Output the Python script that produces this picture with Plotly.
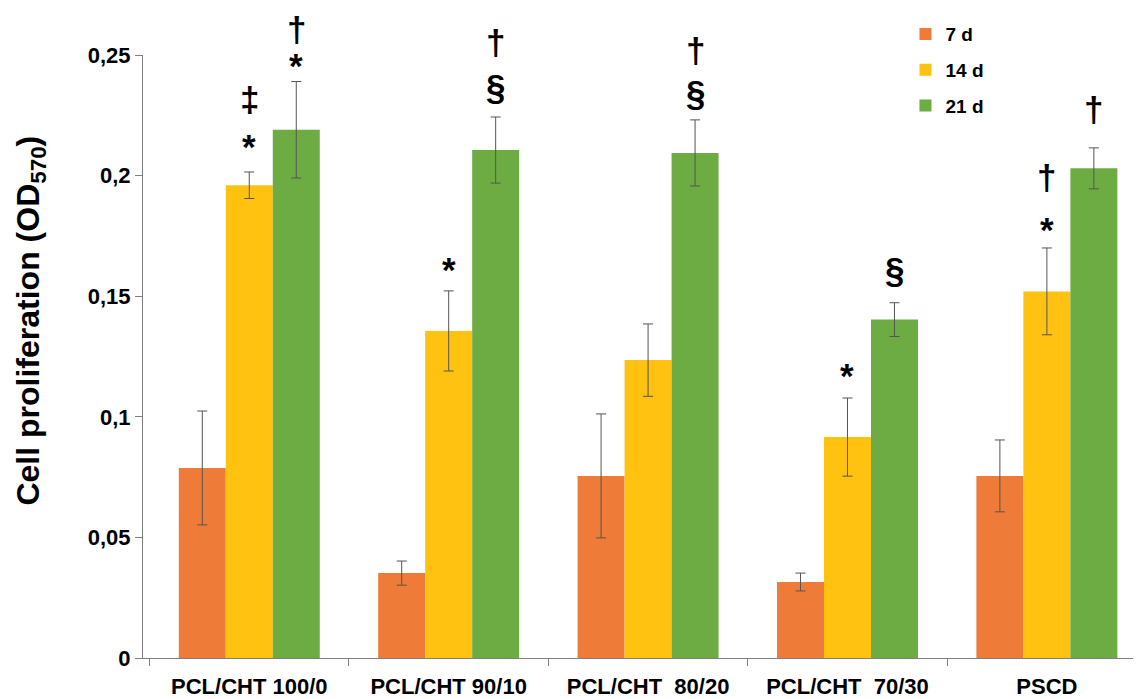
import plotly.graph_objects as go

categories = ["PCL/CHT 100/0", "PCL/CHT 90/10", "PCL/CHT\u00a0 80/20", "PCL/CHT\u00a0 70/30", "PSCD"]
series_names = ["7 d", "14 d", "21 d"]
vals_7d = [0.0788, 0.0352, 0.0755, 0.0315, 0.0755]
err_7d = [0.0236, 0.0050, 0.0257, 0.0037, 0.0149]
vals_14d = [0.1960, 0.1356, 0.1235, 0.0916, 0.1520]
err_14d = [0.0055, 0.0166, 0.0150, 0.0162, 0.0180]
vals_21d = [0.2190, 0.2106, 0.2094, 0.1403, 0.2030]
err_21d = [0.0200, 0.0137, 0.0137, 0.0070, 0.0085]
# significance symbols, bottom to top
sym_7d = [[], [], [], [], []]
sym_14d = [["*", "‡"], ["*"], [], ["*"], ["*", "†"]]
sym_21d = [["*", "†"], ["§", "†"], ["§", "†"], ["§"], ["†"]]
y_tickvals = [0, 0.05, 0.1, 0.15, 0.2, 0.25]
y_ticktext = ["0", "0,05", "0,1", "0,15", "0,2", "0,25"]

# styling: pixel lift of each symbol above its error-bar cap
lift_7d = [[], [], [], [], []]
lift_14d = [[25, 72], [21], [], [22], [18, 70]]
lift_21d = [[16, 52], [30, 74], [27, 69], [33], [38]]

colors = ["#EE7B38", "#FFC210", "#6CAC42"]
FONT = "Liberation Sans, Arial, sans-serif"

fig = go.Figure()
all_vals = [vals_7d, vals_14d, vals_21d]
all_err = [err_7d, err_14d, err_21d]
all_sym = [sym_7d, sym_14d, sym_21d]
all_lift = [lift_7d, lift_14d, lift_21d]
for name, v, e, c in zip(series_names, all_vals, all_err, colors):
    fig.add_trace(go.Bar(
        name=name, x=categories, y=v, marker=dict(color=c, line=dict(width=0)),
        error_y=dict(type="data", array=e, visible=True, color="#555555", thickness=1, width=5),
        legendgroup=name,
    ))

bar_w = 0.2356
offsets = [-bar_w, 0.0, bar_w]
annotations = []
for si in range(3):
    for ci in range(len(categories)):
        top = all_vals[si][ci] + all_err[si][ci]
        for s, lift in zip(all_sym[si][ci], all_lift[si][ci]):
            annotations.append(dict(
                x=ci + offsets[si], y=top, xref="x", yref="y", text=s, showarrow=False,
                yanchor="middle", xanchor="center", yshift=lift,
                font=dict(family=FONT, size=35, color="black", weight="bold"),
            ))

annotations.append(dict(
    text="Cell proliferation (OD<sub>570</sub>)", xref="paper", yref="paper",
    x=-0.113, y=0.56, xanchor="center", yanchor="middle", textangle=-90, showarrow=False,
    font=dict(family=FONT, size=32, color="black", weight="bold"),
))

# page body has an 8px margin: compensate so the plot sits where the reference does
fig.update_layout(
    width=1133, height=691,
    margin=dict(l=135, r=0, t=47, b=41, autoexpand=False),
    paper_bgcolor="white", plot_bgcolor="white",
    barmode="group", bargap=0.293, bargroupgap=0,
    font=dict(family=FONT, color="black"),
    showlegend=True,
    legend=dict(x=0.764, y=1.066, xanchor="left", yanchor="top",
                font=dict(family=FONT, size=19, color="black", weight="bold"),
                tracegroupgap=8, bgcolor="rgba(0,0,0,0)"),
    annotations=annotations,
)
fig.update_xaxes(
    type="category", range=[-0.533, 4.472], showline=True, linecolor="#808080", linewidth=1,
    ticks="outside", tickson="boundaries", ticklen=7, tickcolor="#808080",
    tickfont=dict(family=FONT, size=22, color="black", weight="bold"),
    ticklabelstandoff=9,
    showgrid=False, zeroline=False,
)
fig.update_yaxes(
    range=[0, 0.25], tickvals=y_tickvals, ticktext=y_ticktext,
    showline=True, linecolor="#808080", linewidth=1, ticks="outside", ticklen=7,
    tickcolor="#808080", showgrid=False, zeroline=False,
    tickfont=dict(family=FONT, size=22, color="black", weight="bold"),
)
fig.write_html("out.html")
